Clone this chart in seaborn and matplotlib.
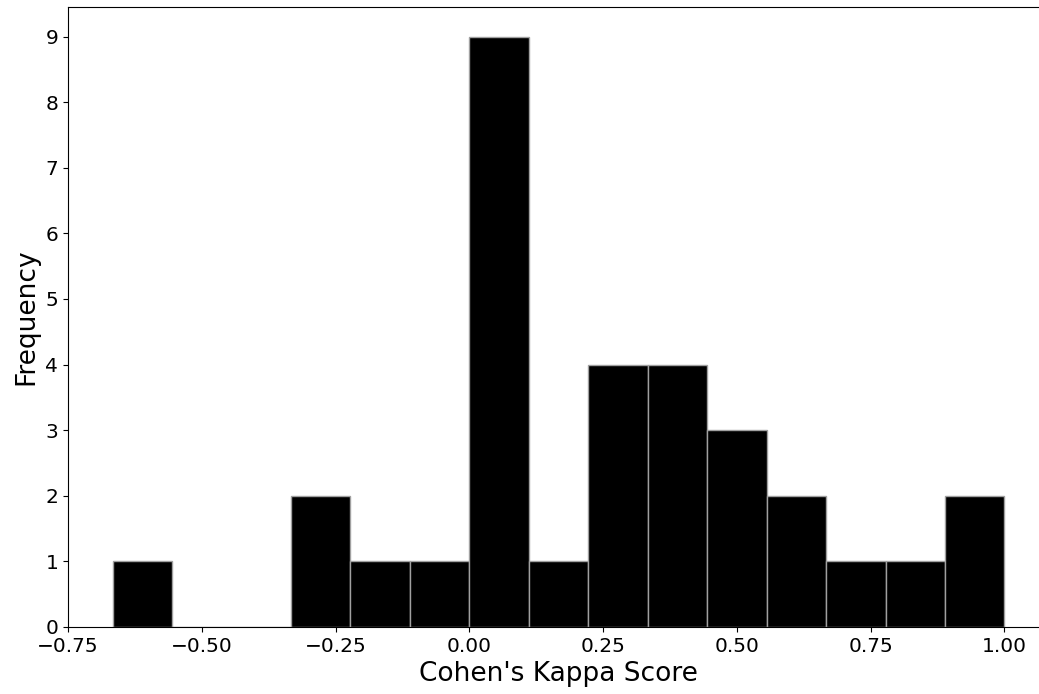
import numpy as np
import pandas as pd
import matplotlib
matplotlib.use('Agg')
import matplotlib.pyplot as plt
from matplotlib.ticker import MultipleLocator
import seaborn as sns

# histogram: 15 bins between -2/3 and 1
bin_low = -2 / 3
bin_high = 1.0
n_bins = 15
frequency = [1, 0, 0, 2, 1, 1, 9, 1, 4, 4, 3, 2, 1, 1, 2]

edges = np.linspace(bin_low, bin_high, n_bins + 1)
centers = (edges[:-1] + edges[1:]) / 2
df = pd.DataFrame({'kappa': centers, 'count': frequency})

fig = plt.figure(figsize=(10.39, 6.94), dpi=100)
# axes run a little past the right edge, the reference is cropped there
ax = fig.add_axes([68 / 1039, 67 / 694, 981 / 1039, 620 / 694])

sns.histplot(data=df, x='kappa', weights='count', bins=n_bins,
             binrange=(bin_low, bin_high), color='black', alpha=1,
             edgecolor='#a0a0a0', linewidth=1, ax=ax)

pad = 0.05 * (bin_high - bin_low)
ax.set_xlim(bin_low - pad, bin_high + pad)
ax.set_ylim(0, max(frequency) * 1.05)
ax.yaxis.set_major_locator(MultipleLocator(1))
ax.spines['right'].set_visible(False)  # cut off in the reference

ax.set_xlabel("Cohen's Kappa Score", fontsize=19)
ax.set_ylabel('Frequency', fontsize=19)
ax.tick_params(labelsize=14.5)

plt.savefig('out.png', dpi=100)
